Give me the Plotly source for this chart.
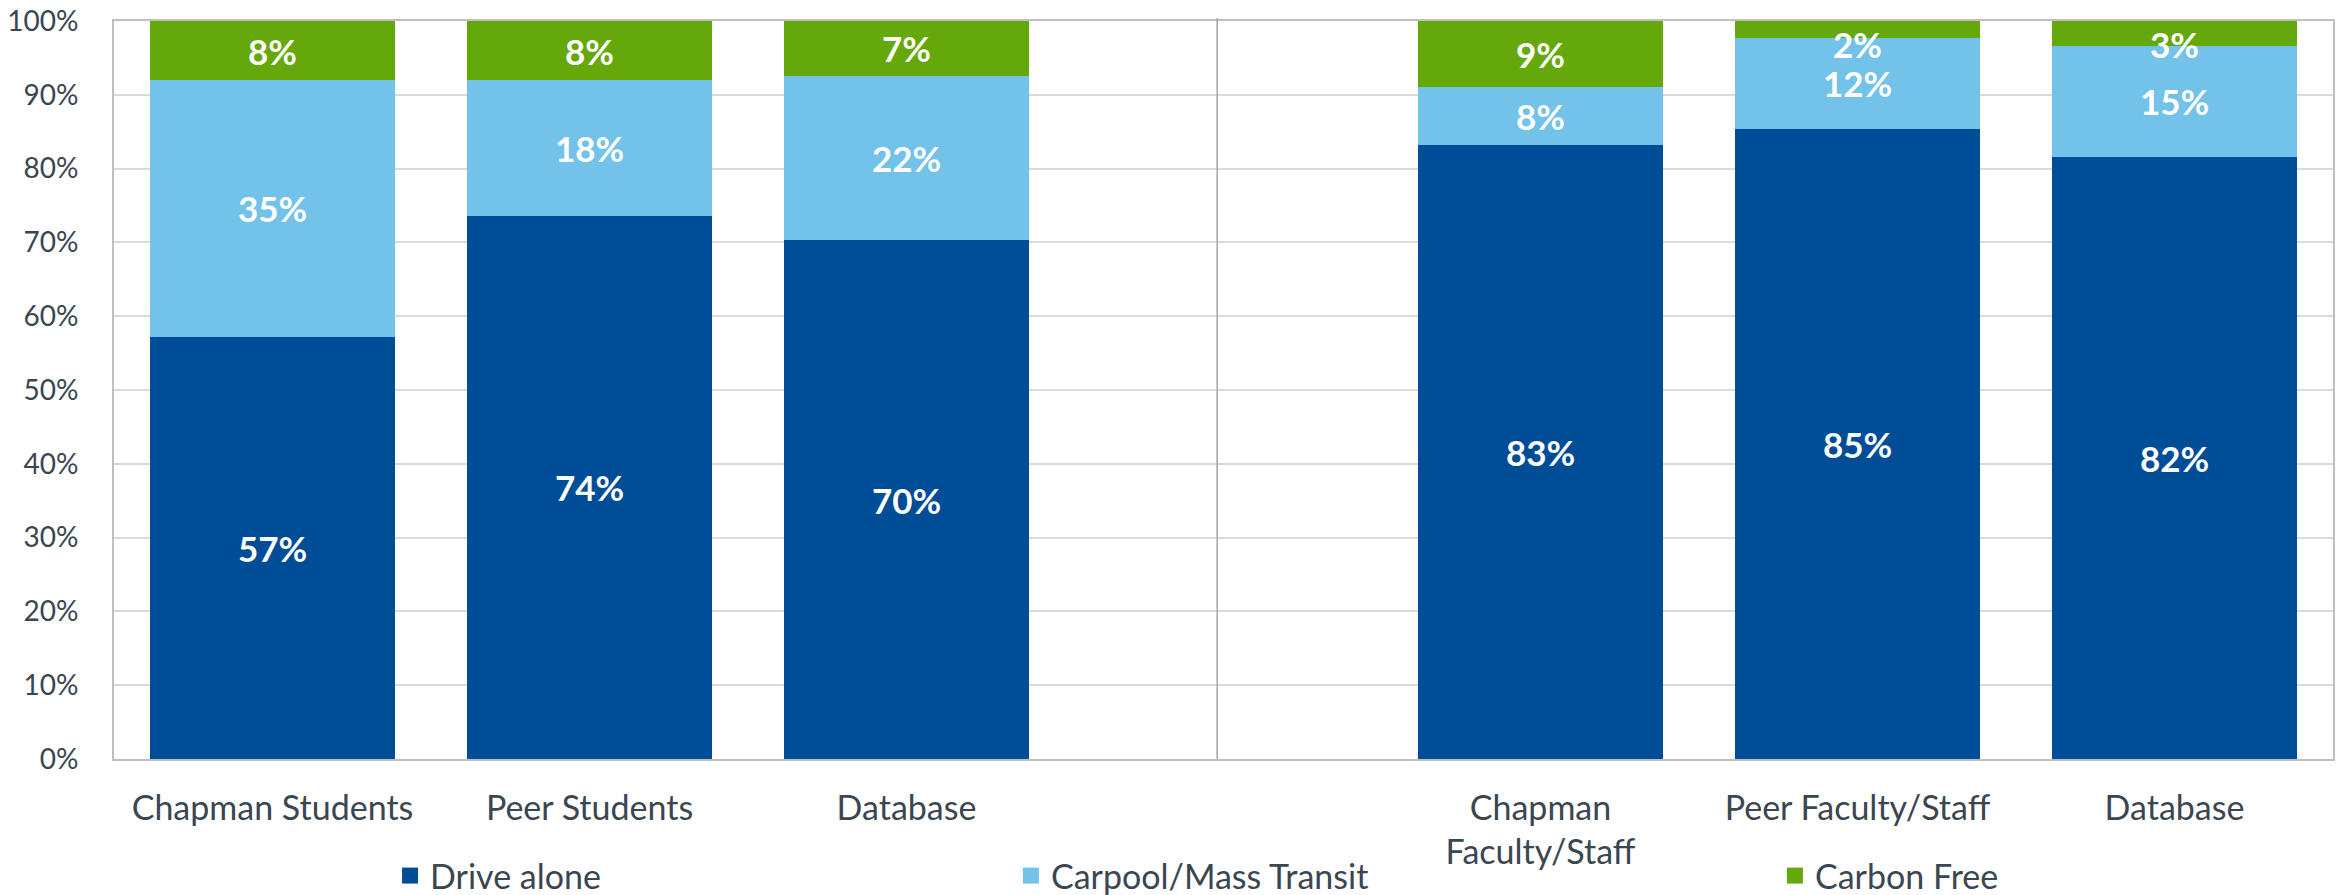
import plotly.graph_objects as go

# ---- data ----
x_labels = ["Chapman Students", "Peer Students", "Database",
            "Chapman<br>Faculty/Staff", "Peer Faculty/Staff", "Database"]
x_pos = [0, 1, 2, 4, 5, 6]
drive_alone = [57.2, 73.6, 70.3, 83.2, 85.4, 81.6]
carpool_transit = [34.8, 18.4, 22.3, 7.8, 12.3, 15.0]
carbon_free = [8.0, 8.0, 7.4, 9.0, 2.3, 3.4]
series_names = ["Drive alone", "Carpool/Mass Transit", "Carbon Free"]
series_colors = ["#004D97", "#73C2E9", "#65A80A"]
y_ticks = [0, 10, 20, 30, 40, 50, 60, 70, 80, 90, 100]

FONT = "Lato"
TXT = "#3A4651"

fig = go.Figure()
series = [drive_alone, carpool_transit, carbon_free]
legend_ids = ["legend", "legend2", "legend3"]
for name, vals, col, lg in zip(series_names, series, series_colors, legend_ids):
    fig.add_trace(go.Bar(
        x=x_pos, y=vals, name=name, marker=dict(color=col, line=dict(width=0)),
        width=0.77, legendgroup=name, showlegend=False, hoverinfo="skip"))
    # legend entry with a larger square key
    fig.add_trace(go.Scatter(
        x=[None], y=[None], mode="markers", name=name, legendgroup=name,
        marker=dict(symbol="square", size=20, color=col, line=dict(width=0)),
        legend=lg, showlegend=True, hoverinfo="skip"))

# data labels (centered in segments, kept inside the plot top)
annotations = []
base = [0.0] * len(x_pos)
for vals in series:
    for i, v in enumerate(vals):
        yc = min(base[i] + v / 2, 100 - 3.1)
        annotations.append(dict(
            x=x_pos[i], y=yc, xref="x", yref="y", text=f"{round(v):.0f}%",
            showarrow=False, font=dict(family=FONT, size=35, color="white", weight="bold"),
            xanchor="center", yanchor="middle"))
        base[i] += v

leg_common = dict(orientation="h", y=-0.1585, xanchor="left", yanchor="middle",
                  font=dict(family=FONT, size=34, color=TXT), bgcolor="rgba(0,0,0,0)",
                  itemsizing="trace")

fig.update_layout(
    barmode="stack",
    showlegend=True,
    width=2338, height=895,
    margin=dict(l=114, r=5, t=21, b=136, autoexpand=False),
    plot_bgcolor="white", paper_bgcolor="white",
    font=dict(family=FONT, color=TXT),
    annotations=annotations,
    shapes=[dict(type="line", xref="x", yref="paper", x0=2.98, x1=2.98, y0=0, y1=1.004,
                 line=dict(color="#A6A6A6", width=1.5))],
    legend=dict(x=0.1244, **leg_common),
    legend2=dict(x=0.4042, **leg_common),
    legend3=dict(x=0.7485, **leg_common),
    xaxis=dict(range=[-0.5, 6.5], tickmode="array", tickvals=x_pos, ticktext=x_labels,
               showline=True, mirror=True, linecolor="#BFBFBF", linewidth=2,
               showgrid=False, ticks="", ticklabelstandoff=18,
               tickfont=dict(family=FONT, size=34, color=TXT), fixedrange=True),
    yaxis=dict(range=[0, 100], tickmode="array", tickvals=y_ticks,
               ticktext=[f"{t}%" for t in y_ticks],
               showline=True, mirror=True, linecolor="#BFBFBF", linewidth=2,
               showgrid=True, gridcolor="#D9D9D9", gridwidth=2, zeroline=False,
               ticks="", ticklabelstandoff=28,
               tickfont=dict(family=FONT, size=28, color=TXT), fixedrange=True),
)

fig.write_html("out.html", config={"displayModeBar": False},
               post_script="document.body.style.margin='0';document.body.style.overflow='hidden';")
